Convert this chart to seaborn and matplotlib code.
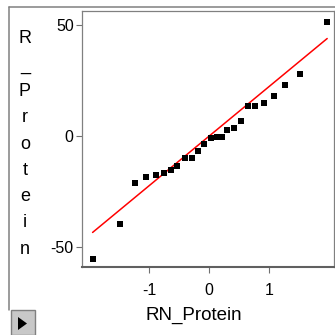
import numpy as np
import pandas as pd
import matplotlib
matplotlib.use("Agg")
import matplotlib.pyplot as plt
import seaborn as sns
from matplotlib.patches import Rectangle, Polygon
from matplotlib.lines import Line2D

# Normal-Quantile-Werte (x) und Residuen (y)
normal_quantile = [-1.94, -1.49, -1.24, -1.05, -0.89, -0.76, -0.64, -0.53, -0.41, -0.29,
                   -0.19, -0.09, 0.03, 0.12, 0.21, 0.29, 0.41, 0.53, 0.65, 0.76,
                   0.91, 1.08, 1.26, 1.51, 1.96]
r_protein = [-55.3, -39.5, -21.0, -18.3, -17.4, -16.7, -15.2, -13.4, -10.1, -9.8,
             -6.8, -3.5, -0.8, -0.3, -0.3, 2.6, 3.7, 6.9, 13.5, 13.5,
             15.0, 18.2, 23.1, 28.1, 51.5]

# Referenzlinie (Achsenabschnitt, Steigung)
line_intercept = 0.0
line_slope = 22.4

x_ticks = [-1, 0, 1]
y_ticks = [-50, 0, 50]

df = pd.DataFrame({"x": normal_quantile, "y": r_protein})
x_line = np.array([min(normal_quantile), max(normal_quantile)])
df_line = pd.DataFrame({"x": x_line, "y": line_intercept + line_slope * x_line})

sns.set_style("white")
plt.rcParams["font.family"] = ["Liberation Sans", "DejaVu Sans"]
plt.rcParams["text.color"] = "black"
plt.rcParams["xtick.labelcolor"] = "black"
plt.rcParams["ytick.labelcolor"] = "black"

W = H = 335
fig = plt.figure(figsize=(W / 100, H / 100), dpi=100)
ax = fig.add_axes([82 / W, (H - 266.5) / H, (333.5 - 82) / W, (266.5 - 11) / H])

sns.lineplot(data=df_line, x="x", y="y", color="red", linewidth=1.1, ax=ax, zorder=2)
sns.scatterplot(data=df, x="x", y="y", marker="s", color="black", s=20,
                linewidth=0, ax=ax, zorder=3)

ax.set_xlim(-2.116, 2.065)
ax.set_ylim(-58.8, 56.3)
ax.set_xticks(x_ticks)
ax.set_yticks(y_ticks)
ax.set_xticklabels([str(t) for t in x_ticks], fontsize=11.5)
ax.set_yticklabels([str(t) for t in y_ticks], fontsize=11.5)
ax.set_xlabel("")
ax.set_ylabel("")
ax.tick_params(axis="x", direction="out", length=4, width=0.8, color="#707070",
               labelcolor="black", pad=8)
ax.tick_params(axis="y", direction="out", length=4, width=0.8, color="#707070",
               labelcolor="black", pad=2)
ax.tick_params(bottom=True, left=True)
for side in ["top", "right", "left"]:
    ax.spines[side].set_color("#808080")
    ax.spines[side].set_linewidth(0.9)
ax.spines["bottom"].set_color("#606060")
ax.spines["bottom"].set_linewidth(1.5)

# Achsentitel
fig.text(194 / W, 1 - 315 / H, "RN_Protein", fontsize=13.5, ha="center", va="center",
         color="black")
fig.text(25 / W, 1 - 144 / H, "\n".join("R_Protein"), fontsize=13, ha="center",
         va="center", linespacing=1.71, color="black")

# Rahmen des Berichts
fig.add_artist(Line2D([8.5 / W, 1], [1 - 6.5 / H, 1 - 6.5 / H], color="#808080", lw=1.1))
fig.add_artist(Line2D([8.5 / W, 8.5 / W], [1 - 6.5 / H, 1 - 310 / H], color="#808080", lw=1.1))

# Schaltfläche unten links
fig.add_artist(Rectangle((11 / W, 0), 24 / W, 25 / H, facecolor="#c8c8c8",
                         edgecolor="#808080", lw=1))
fig.add_artist(Polygon([[18 / W, 5 / H], [18 / W, 18 / H], [27 / W, 11.5 / H]],
                       closed=True, facecolor="black", edgecolor="none"))

fig.savefig("out.png", dpi=100)
